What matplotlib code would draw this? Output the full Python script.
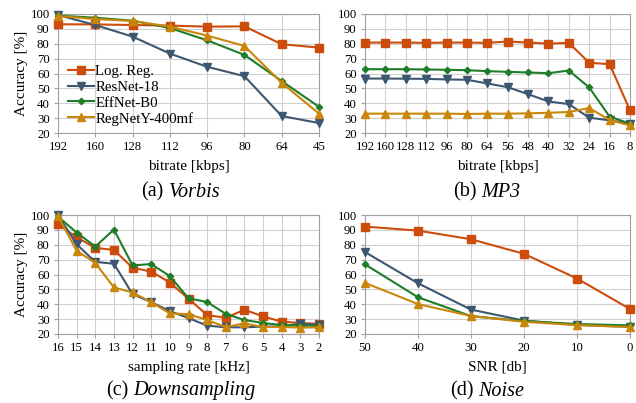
import matplotlib
matplotlib.use("Agg")
import matplotlib.pyplot as plt

plt.rcParams['font.family'] = ['Liberation Serif', 'DejaVu Serif']

models = ['Log. Reg.', 'ResNet-18', 'EffNet-B0', 'RegNetY-400mf']
colors = ['#cc4c0c', '#3e5770', '#1e7d28', '#c8870a']
markers = ['s', 'v', 'D', '^']
msizes = [5.5, 5.5, 3.2, 5.5]

# (a) Vorbis
vorbis_x = ['192', '160', '128', '112', '96', '80', '64', '45']
vorbis_logreg = [93.1, 93.0, 92.6, 92.2, 91.5, 91.7, 79.7, 77.4]
vorbis_resnet = [99.3, 92.6, 84.8, 73.4, 64.5, 58.2, 31.4, 26.7]
vorbis_effnet = [98.9, 97.5, 95.5, 90.6, 82.3, 72.5, 54.9, 37.6]
vorbis_regnet = [98.7, 96.6, 95.3, 91.5, 85.5, 78.5, 53.7, 33.0]

# (b) MP3
mp3_x = ['192', '160', '128', '112', '96', '80', '64', '56', '48', '40', '32', '24', '16', '8']
mp3_logreg = [80.8, 80.8, 80.8, 80.6, 80.8, 80.8, 80.6, 81.5, 80.8, 80.1, 80.6, 67.2, 66.3, 35.2]
mp3_resnet = [56.6, 56.6, 56.5, 56.4, 56.0, 55.8, 53.3, 50.8, 46.1, 41.2, 39.4, 30.3, 28.5, 26.3]
mp3_effnet = [62.9, 62.9, 62.9, 62.7, 62.5, 62.2, 61.6, 61.1, 60.7, 60.2, 62.0, 50.6, 31.0, 26.3]
mp3_regnet = [33.0, 33.0, 33.0, 33.0, 33.0, 32.8, 33.0, 33.0, 33.2, 33.6, 34.1, 36.8, 28.7, 25.1]

# (c) Downsampling
down_x = ['16', '15', '14', '13', '12', '11', '10', '9', '8', '7', '6', '5', '4', '3', '2']
down_logreg = [93.7, 85.0, 77.9, 76.5, 64.5, 62.0, 54.6, 43.7, 32.7, 30.9, 36.3, 31.8, 28.3, 27.4, 26.8]
down_resnet = [100.0, 80.3, 68.5, 67.2, 46.8, 41.4, 35.4, 30.7, 25.6, 24.5, 24.5, 25.0, 25.0, 27.0, 26.0]
down_effnet = [98.9, 88.2, 78.8, 90.2, 66.1, 67.0, 58.9, 44.0, 41.5, 33.5, 29.4, 27.4, 26.0, 25.6, 25.5]
down_regnet = [99.3, 76.0, 67.8, 51.3, 47.9, 41.4, 33.8, 33.4, 29.4, 24.7, 27.1, 24.7, 24.7, 24.3, 24.5]

# (d) Noise
noise_x = ['50', '40', '30', '20', '10', '0']
noise_logreg = [92.2, 89.5, 83.7, 73.9, 57.3, 36.8]
noise_resnet = [75.1, 54.1, 36.4, 29.0, 26.1, 24.8]
noise_effnet = [66.8, 44.7, 32.0, 28.7, 26.7, 25.8]
noise_regnet = [54.4, 40.1, 32.1, 28.2, 26.0, 24.7]

panels = [
    (vorbis_x, [vorbis_logreg, vorbis_resnet, vorbis_effnet, vorbis_regnet], 'bitrate [kbps]', '(a)', 'Vorbis'),
    (mp3_x, [mp3_logreg, mp3_resnet, mp3_effnet, mp3_regnet], 'bitrate [kbps]', '(b)', 'MP3'),
    (down_x, [down_logreg, down_resnet, down_effnet, down_regnet], 'sampling rate [kHz]', '(c)', 'Downsampling'),
    (noise_x, [noise_logreg, noise_resnet, noise_effnet, noise_regnet], 'SNR [db]', '(d)', 'Noise'),
]

W, H = 636, 403
fig = plt.figure(figsize=(W / 100, H / 100), dpi=100)
renderer = fig.canvas.get_renderer()

# axes boxes in pixels: left, right, top, bottom
boxes = [(58, 319, 14, 133), (365, 630, 14, 133), (58, 319, 215, 334), (365, 630, 215, 334)]
captions_xy = [(181, 192), (487, 192), (181, 391), (487, 391)]
cap_size = 14.5

for k, (xl, series, xlabel, tag, name) in enumerate(panels):
    l, r, t, b = boxes[k]
    ax = fig.add_axes([l / W, 1 - b / H, (r - l) / W, (b - t) / H])
    xs = list(range(len(xl)))
    for s, ys in enumerate(series):
        ax.plot(xs, ys, color=colors[s], marker=markers[s], markersize=msizes[s],
                linewidth=1.5, label=models[s], clip_on=False, zorder=3)
    ax.set_xlim(0, len(xl) - 1)
    ax.set_ylim(20, 100)
    ax.set_xticks(xs)
    ax.set_xticklabels(xl)
    ax.set_yticks(range(20, 101, 10))
    ax.grid(True, color='#d0d0d0', linewidth=0.8)
    ax.set_axisbelow(True)
    for sp in ax.spines.values():
        sp.set_color('#a0a0a0')
        sp.set_linewidth(0.8)
    ax.tick_params(colors='#a0a0a0', labelcolor='black', labelsize=9.2, length=3,
                   width=0.8, pad=3)
    ax.set_xlabel(xlabel, fontsize=11, labelpad=4.5)
    if k % 2 == 0:
        ax.set_ylabel('Accuracy [%]', fontsize=11, labelpad=2)
    if k == 0:
        ax.legend(loc='upper left', bbox_to_anchor=(0.0, 0.66), frameon=False,
                  fontsize=10.7, handlelength=1.7, handletextpad=0.1,
                  labelspacing=0.15, borderaxespad=0.3)

    # caption: "(x)" upright + name in italics, centred as one piece
    cx, cy = captions_xy[k]
    t1 = fig.text(0, 1 - cy / H, tag, fontsize=cap_size, ha='left', va='center')
    t2 = fig.text(0, 1 - cy / H, name, fontsize=cap_size, style='italic', ha='left', va='center')
    w1 = t1.get_window_extent(renderer).width
    w2 = t2.get_window_extent(renderer).width
    gap = 0.25 * cap_size * 100 / 72
    x0 = cx - (w1 + gap + w2) / 2
    t1.set_x(x0 / W)
    t2.set_x((x0 + w1 + gap) / W)

fig.savefig('out.png', dpi=100)
